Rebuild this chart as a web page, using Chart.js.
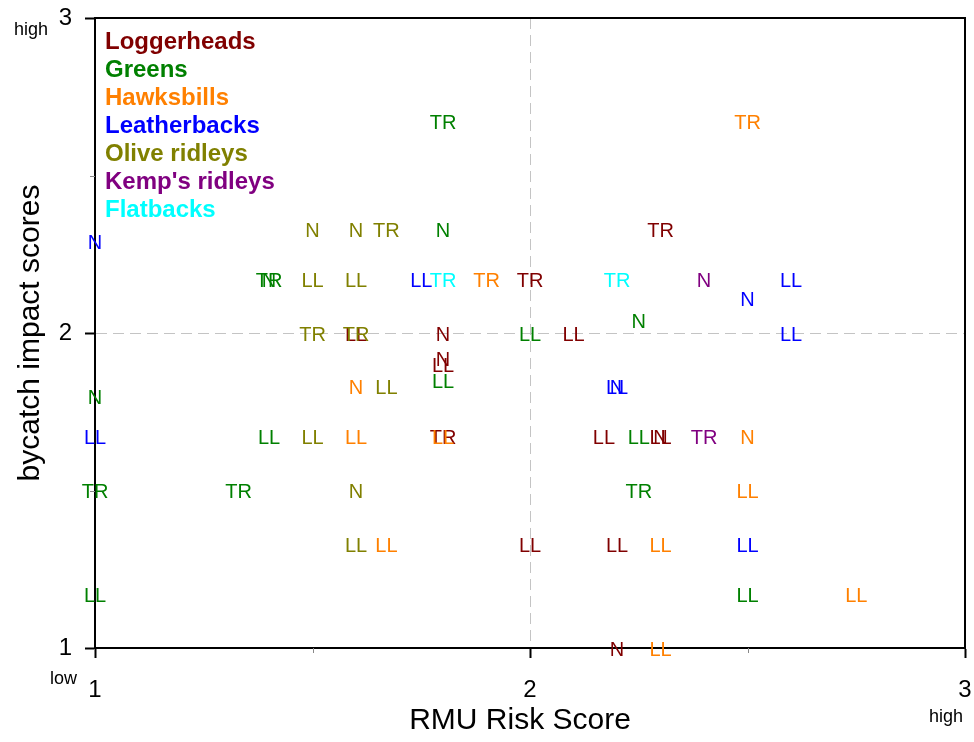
<!DOCTYPE html>
<html>
<head>
<meta charset="utf-8">
<script src="https://cdn.jsdelivr.net/npm/chart.js@4.4.1/dist/chart.umd.min.js"></script>
<style>
  html, body { margin: 0; padding: 0; background: #fff; }
  #wrap { width: 974px; height: 742px; }
</style>
</head>
<body>
<div id="wrap"><canvas id="chart"></canvas></div>
<script>
const species = ['Loggerheads', 'Greens', 'Hawksbills', 'Leatherbacks', 'Olive ridleys', "Kemp's ridleys", 'Flatbacks'];
const colors = ['#800000', '#008000', '#ff8000', '#0000ff', '#808000', '#800080', '#00ffff'];
const xTicks = [1, 2, 3];
const yTicks = [1, 2, 3];

// [RMU risk score, bycatch impact score, fishery code]
const loggerheads = [
  [2.3, 2.33, 'TR'], [2.0, 2.17, 'TR'], [2.1, 2.0, 'LL'], [1.8, 2.0, 'N'],
  [1.8, 1.92, 'N'], [1.8, 1.9, 'LL'], [1.6, 2.0, 'LL'], [1.8, 1.67, 'TR'],
  [2.17, 1.67, 'LL'], [2.3, 1.67, 'LL'], [2.3, 1.67, 'N'], [2.0, 1.33, 'LL'],
  [2.2, 1.33, 'LL'], [2.2, 1.0, 'N']
];
const greens = [
  [1.8, 2.67, 'TR'], [1.8, 2.33, 'N'], [1.4, 2.17, 'TR'], [1.4, 2.17, 'N'],
  [2.0, 2.0, 'LL'], [2.25, 2.04, 'N'], [1.8, 1.85, 'LL'], [1.0, 1.8, 'N'],
  [1.4, 1.67, 'LL'], [2.25, 1.67, 'LL'], [1.0, 1.5, 'TR'], [1.33, 1.5, 'TR'],
  [2.25, 1.5, 'TR'], [1.0, 1.17, 'LL'], [2.5, 1.17, 'LL']
];
const hawksbills = [
  [2.5, 2.67, 'TR'], [1.9, 2.17, 'TR'], [1.6, 1.83, 'N'], [1.6, 1.67, 'LL'],
  [1.8, 1.67, 'LL'], [2.5, 1.67, 'N'], [2.5, 1.5, 'LL'], [1.67, 1.33, 'LL'],
  [2.3, 1.33, 'LL'], [2.75, 1.17, 'LL'], [2.3, 1.0, 'LL']
];
const leatherbacks = [
  [1.0, 2.29, 'N'], [1.75, 2.17, 'LL'], [2.6, 2.17, 'LL'], [2.5, 2.11, 'N'],
  [2.6, 2.0, 'LL'], [2.2, 1.83, 'LL'], [2.2, 1.83, 'N'], [1.0, 1.67, 'LL'],
  [2.5, 1.33, 'LL']
];
const oliveRidleys = [
  [1.5, 2.33, 'N'], [1.6, 2.33, 'N'], [1.67, 2.33, 'TR'], [1.5, 2.17, 'LL'],
  [1.6, 2.17, 'LL'], [1.5, 2.0, 'TR'], [1.6, 2.0, 'TR'], [1.67, 1.83, 'LL'],
  [1.5, 1.67, 'LL'], [1.6, 1.5, 'N'], [1.6, 1.33, 'LL']
];
const kempsRidleys = [[2.4, 2.17, 'N'], [2.4, 1.67, 'TR']];
const flatbacks = [[1.8, 2.17, 'TR'], [2.2, 2.17, 'TR']];

const allPoints = [loggerheads, greens, hawksbills, leatherbacks, oliveRidleys, kempsRidleys, flatbacks];

Chart.defaults.font.family = '"Liberation Sans", Arial, sans-serif';
Chart.defaults.color = '#000';

// draw fishery codes as text at each point position
const codeLabels = {
  id: 'codeLabels',
  afterDatasetsDraw(chart) {
    const ctx = chart.ctx;
    ctx.save();
    ctx.font = '20px "Liberation Sans", Arial, sans-serif';
    ctx.textAlign = 'center';
    ctx.textBaseline = 'middle';
    chart.data.datasets.forEach((ds, i) => {
      const meta = chart.getDatasetMeta(i);
      ctx.fillStyle = ds.borderColor;
      meta.data.forEach((el, j) => {
        ctx.fillText(ds.data[j].code, el.x, el.y + 2);
      });
    });
    ctx.restore();
  }
};

// frame, minor ticks, low/high notes, x title, legend text
const extras = {
  id: 'extras',
  afterDraw(chart) {
    const ctx = chart.ctx;
    const a = chart.chartArea;
    const xs = chart.scales.x, ys = chart.scales.y;
    ctx.save();
    ctx.strokeStyle = '#000';
    ctx.lineWidth = 2;
    ctx.beginPath();
    ctx.moveTo(a.left, a.top);
    ctx.lineTo(a.right, a.top);
    ctx.lineTo(a.right, a.bottom);
    ctx.stroke();

    ctx.strokeStyle = '#888';
    ctx.lineWidth = 1;
    [1.5, 2.5].forEach(v => {
      const px = Math.round(xs.getPixelForValue(v)) + 0.5;
      ctx.beginPath(); ctx.moveTo(px, a.bottom); ctx.lineTo(px, a.bottom + 5); ctx.stroke();
      const py = Math.round(ys.getPixelForValue(v)) + 0.5;
      ctx.beginPath(); ctx.moveTo(a.left, py); ctx.lineTo(a.left - 5, py); ctx.stroke();
    });

    ctx.fillStyle = '#000';
    ctx.font = '18px "Liberation Sans", Arial, sans-serif';
    ctx.textBaseline = 'alphabetic';
    ctx.textAlign = 'right';
    ctx.fillText('high', a.left - 47, ys.getPixelForValue(3) + 17);
    ctx.fillText('low', a.left - 18, a.bottom + 36);
    ctx.textAlign = 'center';
    ctx.fillText('high', xs.getPixelForValue(3) - 19, a.bottom + 74);

    ctx.font = '30px "Liberation Sans", Arial, sans-serif';
    ctx.textBaseline = 'middle';
    ctx.fillText('RMU Risk Score', (a.left + a.right) / 2 - 10, a.bottom + 73);

    ctx.font = 'bold 24px "Liberation Sans", Arial, sans-serif';
    ctx.textAlign = 'left';
    species.forEach((s, i) => {
      ctx.fillStyle = colors[i];
      ctx.fillText(s, a.left + 10, a.top + 24 + i * 28);
    });
    ctx.restore();
  }
};

const datasets = species.map((s, i) => ({
  label: s,
  data: allPoints[i].map(p => ({ x: p[0], y: p[1], code: p[2] })),
  borderColor: colors[i],
  backgroundColor: colors[i],
  pointRadius: 0,
  showLine: false
}));

const gridColor = c => (c.tick && c.tick.value === 2) ? '#c4c4c4' : 'rgba(0,0,0,0)';

new Chart(document.getElementById('chart'), {
  type: 'scatter',
  data: { datasets },
  options: {
    responsive: true,
    maintainAspectRatio: false,
    animation: false,
    events: [],
    layout: { padding: { top: 18, right: 9, left: 0, bottom: 0 } },
    plugins: { legend: { display: false }, tooltip: { enabled: false } },
    scales: {
      x: {
        type: 'linear', min: 1, max: 3,
        afterBuildTicks: s => { s.ticks = xTicks.map(v => ({ value: v })); },
        ticks: { font: { size: 24 }, color: '#000', padding: 18, maxRotation: 0 },
        grid: { color: gridColor, lineWidth: 1, tickColor: '#000', tickLength: 10, tickWidth: 2 },
        border: { display: true, color: '#000', width: 2, dash: [11, 6] },
        title: { display: false },
        afterFit: s => { s.height = 94; s.paddingLeft = 0; s.paddingRight = 0; }
      },
      y: {
        type: 'linear', min: 1, max: 3,
        afterBuildTicks: s => { s.ticks = yTicks.map(v => ({ value: v })); },
        ticks: { font: { size: 24 }, color: '#000', padding: 13 },
        grid: { color: gridColor, lineWidth: 1, tickColor: '#000', tickLength: 10, tickWidth: 2 },
        border: { display: true, color: '#000', width: 2, dash: [11, 6] },
        title: { display: true, text: 'bycatch impact scores', font: { size: 30 }, color: '#000', padding: { top: 13, bottom: 0 } },
        afterFit: s => { s.width = 95; s.paddingTop = 0; s.paddingBottom = 0; }
      }
    }
  },
  plugins: [codeLabels, extras]
});
</script>
</body>
</html>
